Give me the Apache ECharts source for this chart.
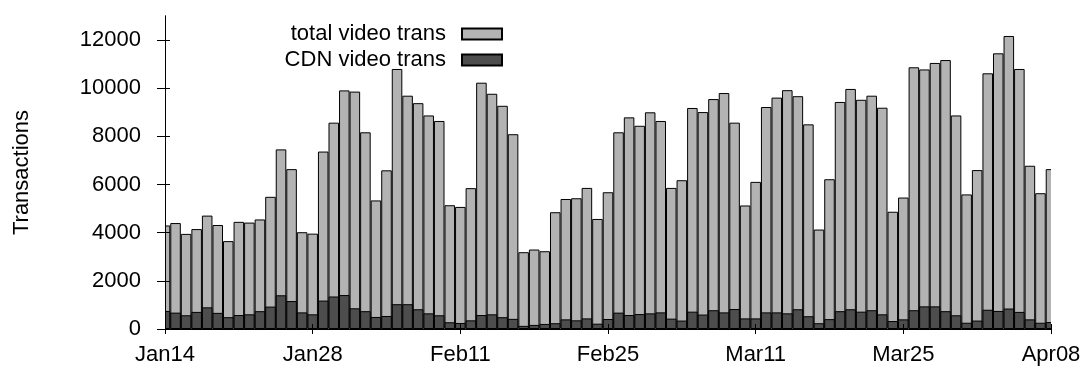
<!DOCTYPE html>
<html>
<head>
<meta charset="utf-8">
<script src="https://cdn.jsdelivr.net/npm/echarts@6/dist/echarts.min.js"></script>
<style>
  html, body { margin: 0; padding: 0; background: #fff; }
  #chart { width: 1088px; height: 373px; }
</style>
</head>
<body>
<div id="chart"></div>
<script>
// one bar per day, Jan14 .. Apr08 (85 days)
var tickLabels = ["Jan14", "Jan28", "Feb11", "Feb25", "Mar11", "Mar25", "Apr08"];
var yTicks = [0, 2000, 4000, 6000, 8000, 10000, 12000];

var totalTrans = [
  4300, 4400, 3950, 4150, 4710, 4320, 3650, 4450, 4420, 4550,
  5490, 7460, 6640, 4020, 3960, 7370, 8570, 9910, 9860, 8170,
  5340, 6590, 10800, 9690, 9380, 8870, 8640, 5140, 5070, 5850,
  10230, 9770, 9270, 8090, 3190, 3300, 3230, 4850, 5400, 5430,
  5860, 4570, 5680, 8170, 8790, 8440, 9000, 8640, 5860, 6180,
  9180, 9010, 9550, 9800, 8570, 5130, 6110, 9220, 9610, 9920,
  9670, 8500, 4130, 6220, 9430, 9970, 9520, 9690, 9190, 4870,
  5460, 10870, 10780, 11050, 11170, 8870, 5590, 6600, 10620, 11450,
  12170, 10800, 6780, 5640, 6640
];
var cdnTrans = [
  750, 680, 570, 710, 900, 670, 490, 580, 610, 740,
  930, 1400, 1160, 690, 610, 1180, 1350, 1410, 860, 740,
  500, 540, 1030, 1030, 820, 650, 570, 280, 250, 360,
  580, 610, 490, 420, 130, 170, 210, 240, 400, 360,
  440, 220, 415, 680, 580, 620, 650, 690, 430, 350,
  720, 600, 780, 690, 830, 440, 440, 690, 690, 650,
  820, 530, 240, 410, 740, 820, 720, 780, 610, 330,
  400, 780, 940, 940, 740, 570, 260, 350, 800, 750,
  850, 710, 400, 260, 290
];

function pairs(vals) {
  return vals.map(function (v, i) { return [i, v]; });
}

var myChart = echarts.init(document.getElementById("chart"));
var font = "'Liberation Sans', Arial, sans-serif";
var legendText = { fontFamily: font, fontSize: 22, color: "#000", padding: [0, 11, 0, 0] };

// bar clip on a value axis leaves half bars sticking out at both ends,
// so cover them with white strips drawn under the axes
var option = {
  animation: false,
  backgroundColor: "#fff",
  grid: { left: 165, right: 37, top: 16, bottom: 44 },
  graphic: [
    { type: "rect", z: 3, silent: true, shape: { x: 148, y: 10, width: 17, height: 325 }, style: { fill: "#fff" } },
    { type: "rect", z: 3, silent: true, shape: { x: 1051, y: 10, width: 17, height: 325 }, style: { fill: "#fff" } }
  ],
  legend: [
    {
      data: ["total video trans"],
      right: 585, top: 23, padding: 0,
      align: "right", icon: "rect",
      itemWidth: 40, itemHeight: 11,
      textStyle: legendText
    },
    {
      data: ["CDN video trans"],
      right: 585, top: 49, padding: 0,
      align: "right", icon: "rect",
      itemWidth: 40, itemHeight: 11,
      textStyle: legendText
    }
  ],
  xAxis: [
    {
      type: "value", min: 0, max: 84, interval: 14, z: 5,
      axisLine: { lineStyle: { color: "#000", width: 1 } },
      axisTick: { inside: false, length: 5, lineStyle: { color: "#000" } },
      axisLabel: {
        margin: 15, fontFamily: font, fontSize: 22, color: "#000",
        formatter: function (v) { return tickLabels[Math.round(v / 14)]; }
      },
      splitLine: { show: false }
    },
    {
      type: "value", position: "top", min: 0, max: 84, interval: 14, z: 5,
      axisLine: { lineStyle: { color: "#000", width: 1 } },
      axisTick: { inside: false, length: 5, lineStyle: { color: "#000" } },
      axisLabel: { show: false },
      splitLine: { show: false }
    }
  ],
  yAxis: [
    {
      type: "value", min: 0, max: 13000, interval: 2000, z: 5,
      name: "Transactions", nameLocation: "middle", nameRotate: 90, nameGap: 132,
      nameTextStyle: { fontFamily: font, fontSize: 22, color: "#000" },
      axisLine: { show: true, lineStyle: { color: "#000", width: 1 } },
      axisTick: { show: true, inside: false, length: 8, customValues: yTicks, lineStyle: { color: "#000" } },
      axisLabel: {
        margin: 24, fontFamily: font, fontSize: 22, color: "#000", customValues: yTicks,
        formatter: function (v) { return String(v); }
      },
      splitLine: { show: false }
    },
    {
      type: "value", position: "right", min: 0, max: 13000, interval: 2000, z: 5,
      axisLine: { show: true, lineStyle: { color: "#000", width: 1 } },
      axisTick: { show: true, inside: false, length: 5, customValues: yTicks, lineStyle: { color: "#000" } },
      axisLabel: { show: false },
      splitLine: { show: false }
    }
  ],
  series: [
    {
      name: "total video trans",
      type: "bar",
      xAxisIndex: 0, yAxisIndex: 0,
      barWidth: 10.55, barGap: "-100%",
      itemStyle: { color: "#b3b3b3", borderColor: "#000", borderWidth: 1 },
      data: pairs(totalTrans)
    },
    {
      name: "CDN video trans",
      type: "bar",
      xAxisIndex: 0, yAxisIndex: 0,
      barWidth: 10.55, barGap: "-100%",
      itemStyle: { color: "#4d4d4d", borderColor: "#000", borderWidth: 1 },
      data: pairs(cdnTrans)
    }
  ]
};
myChart.setOption(option);
</script>
</body>
</html>
